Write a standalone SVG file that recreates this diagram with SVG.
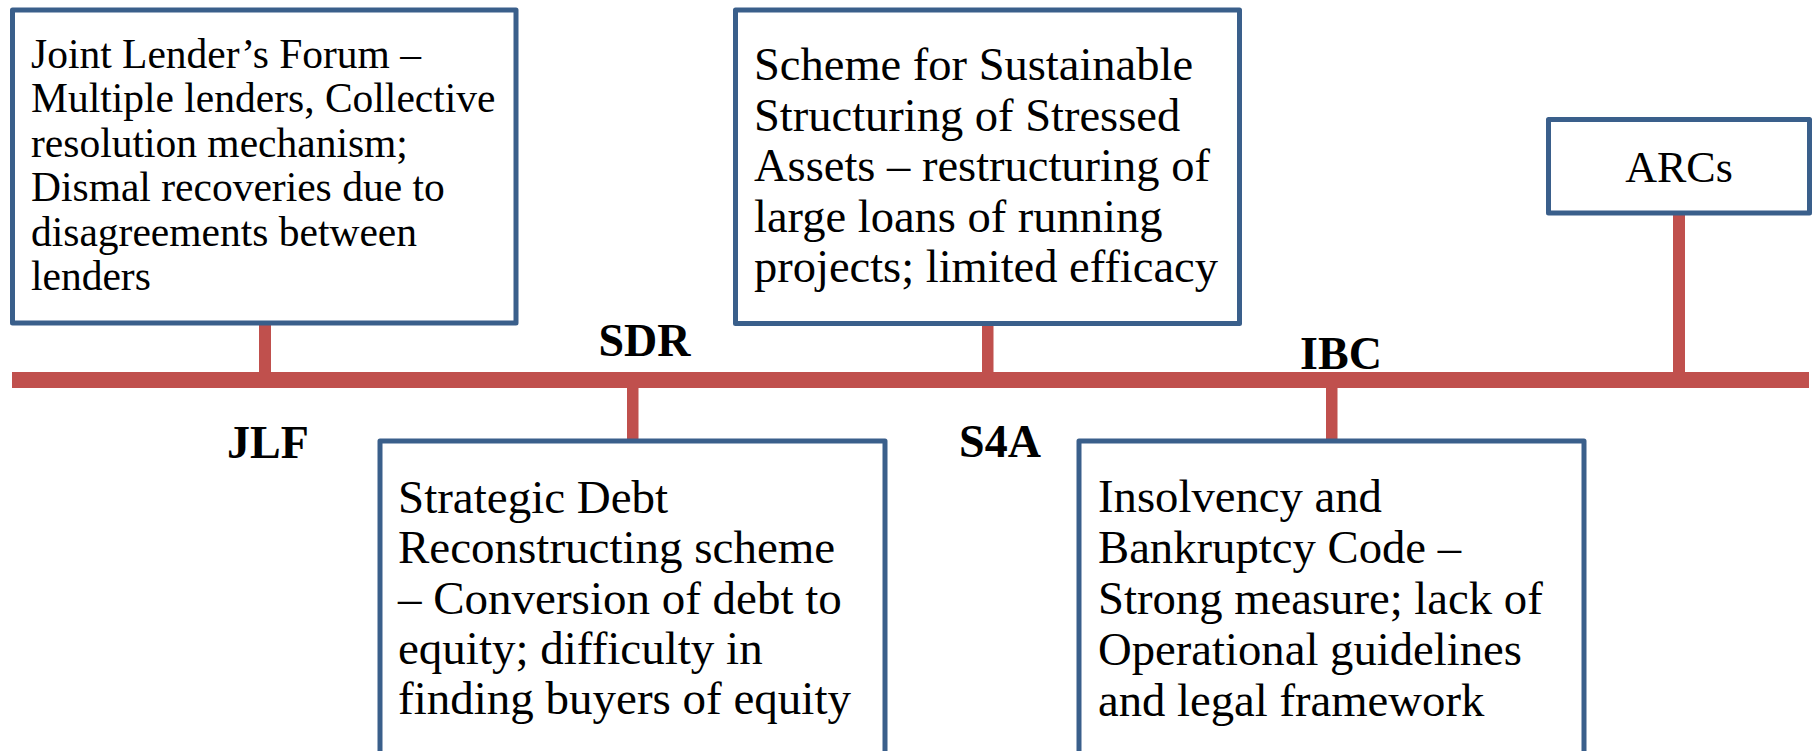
<svg xmlns="http://www.w3.org/2000/svg" width="1815" height="751" viewBox="0 0 1815 751">
<style>
.box{fill:#ffffff;stroke:#3A5F8B;stroke-width:5;stroke-linejoin:round}
.bar{fill:#C0504D}
.t{font-family:"Liberation Serif","Times New Roman",serif;fill:#000000}
.lbl{font-family:"Liberation Serif","Times New Roman",serif;font-weight:bold;font-size:46px;fill:#000000;text-anchor:middle}
</style>
<rect x="0" y="0" width="1815" height="751" fill="#ffffff"/>
<g id="connectors">
<rect class="bar" x="12" y="372" width="1797" height="16"/>
<rect class="bar" x="259" y="324" width="12" height="49"/>
<rect class="bar" x="627" y="387" width="11.5" height="53"/>
<rect class="bar" x="982" y="324" width="11.5" height="49"/>
<rect class="bar" x="1326" y="387" width="11.5" height="53"/>
<rect class="bar" x="1673" y="213" width="12" height="160"/>
</g>
<g id="jlf">
<rect class="box" x="12.5" y="10" width="503.5" height="313"/>
<text class="t" font-size="41.5">
<tspan x="31" y="67.5">Joint Lender’s Forum –</tspan>
<tspan x="31" y="112">Multiple lenders, Collective</tspan>
<tspan x="31" y="156.5">resolution mechanism;</tspan>
<tspan x="31" y="201">Dismal recoveries due to</tspan>
<tspan x="31" y="245.5">disagreements between</tspan>
<tspan x="31" y="290">lenders</tspan>
</text>
<text class="lbl" x="268" y="458">JLF</text>
</g>
<g id="sdr">
<rect class="box" x="380" y="441" width="505" height="330"/>
<text class="t" font-size="47">
<tspan x="398" y="513">Strategic Debt</tspan>
<tspan x="398" y="563">Reconstructing scheme</tspan>
<tspan x="398" y="613.5">– Conversion of debt to</tspan>
<tspan x="398" y="664">equity; difficulty in</tspan>
<tspan x="398" y="714">finding buyers of equity</tspan>
</text>
<text class="lbl" x="644.5" y="356">SDR</text>
</g>
<g id="s4a">
<rect class="box" x="735.5" y="10" width="504" height="313.5"/>
<text class="t" font-size="46.5">
<tspan x="754" y="80">Scheme for Sustainable</tspan>
<tspan x="754" y="130.5">Structuring of Stressed</tspan>
<tspan x="754" y="181">Assets – restructuring of</tspan>
<tspan x="754" y="231.5">large loans of running</tspan>
<tspan x="754" y="282">projects; limited efficacy</tspan>
</text>
<text class="lbl" x="1000" y="457">S4A</text>
</g>
<g id="ibc">
<rect class="box" x="1079" y="441" width="505" height="330"/>
<text class="t" font-size="46.7">
<tspan x="1098" y="512">Insolvency and</tspan>
<tspan x="1098" y="563">Bankruptcy Code –</tspan>
<tspan x="1098" y="614">Strong measure; lack of</tspan>
<tspan x="1098" y="665">Operational guidelines</tspan>
<tspan x="1098" y="716">and legal framework</tspan>
</text>
<text class="lbl" x="1341" y="369">IBC</text>
</g>
<g id="arcs">
<rect class="box" x="1548.5" y="119.5" width="261" height="93.5"/>
<text class="t" font-size="44" x="1679" y="181.5" text-anchor="middle">ARCs</text>
</g>
</svg>
